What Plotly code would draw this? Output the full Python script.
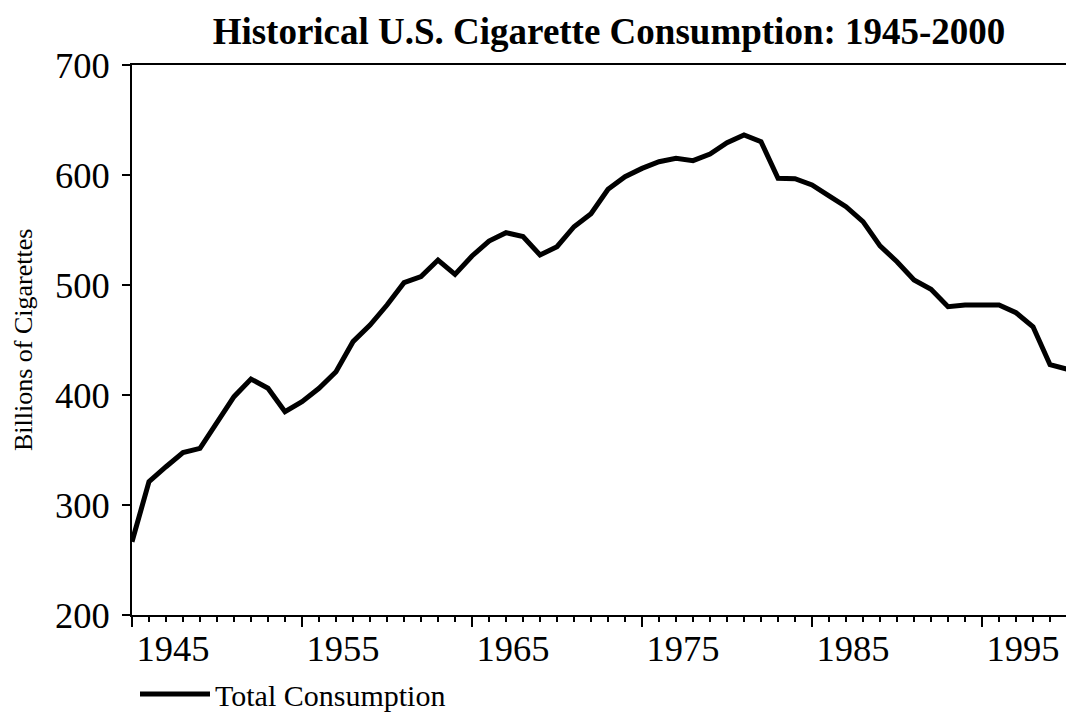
import plotly.graph_objects as go

years = list(range(1945, 2001))
consumption = [
    266.6, 321.2, 334.8, 347.6, 351.5, 374.2, 398.5, 414.5, 406.1, 384.8,
    393.9, 406.1, 421.2, 448.5, 463.6, 481.8, 502.1, 507.6, 522.7, 509.7,
    526.4, 540.0, 547.6, 544.0, 527.3, 534.8, 553.0, 564.8, 587.0, 598.5,
    606.0, 612.1, 615.2, 613.0, 619.1, 629.4, 636.4, 630.3, 597.0, 596.7,
    591.0, 581.0, 571.2, 557.6, 535.5, 521.2, 504.5, 496.1, 480.3, 481.8,
    481.8, 481.8, 474.8, 462.0, 427.5, 423.5,
]
tick_years = [1945, 1955, 1965, 1975, 1985, 1995]
tick_text = [str(y) for y in tick_years]
y_ticks = [200, 300, 400, 500, 600, 700]

serif = "Liberation Serif, Times New Roman, serif"
W, H = 1074, 717
OFF = 8  # page body margin offset

fig = go.Figure()
fig.add_trace(go.Scatter(
    x=years, y=consumption, mode="lines",
    name="Total Consumption",
    line=dict(color="black", width=5),
))

fig.update_layout(
    width=W, height=H,
    paper_bgcolor="white", plot_bgcolor="white",
    margin=dict(l=132 - OFF, r=OFF, t=65 - OFF, b=H - 615 + OFF, autoexpand=False),
    title=dict(
        text="<b>Historical U.S. Cigarette Consumption: 1945-2000</b>",
        font=dict(family=serif, size=37, color="black"),
        xref="container", x=(609 - OFF) / W, xanchor="center",
        yref="container", y=1 - (31 - OFF) / H, yanchor="middle",
    ),
    showlegend=True,
    legend=dict(
        xref="container", yref="container",
        x=(142 - OFF - 7) / W, y=1 - (694 - OFF) / H,
        xanchor="left", yanchor="middle",
        font=dict(family=serif, size=30, color="black"),
        itemwidth=70,
        bgcolor="rgba(0,0,0,0)",
    ),
    font=dict(family=serif, color="black"),
    annotations=[dict(
        text="Billions of Cigarettes", textangle=-90,
        xref="paper", yref="paper",
        x=(23 - 132) / (1074 - 132), y=(615 - 340) / 550,
        xanchor="center", yanchor="middle", showarrow=False,
        font=dict(family=serif, size=26, color="black"),
    )],
)

fig.update_xaxes(
    range=[1945, 2000.41],
    showgrid=False, zeroline=False,
    showline=True, linecolor="black", linewidth=2, mirror=True,
    tickmode="array", tickvals=tick_years, ticktext=tick_text,
    ticks="outside", ticklen=10, tickwidth=1.5, tickcolor="black",
    ticklabelshift=41, ticklabelstandoff=-10,
    tickfont=dict(family=serif, size=36.5, color="black"),
    minor=dict(dtick=1, tick0=1945, ticks="outside", ticklen=5,
               tickwidth=1.5, tickcolor="black", showgrid=False),
)
fig.update_yaxes(
    range=[200, 700],
    showgrid=False, zeroline=False,
    showline=True, linecolor="black", linewidth=2,
    tickmode="array", tickvals=y_ticks,
    ticks="outside", ticklen=8, tickwidth=1.5, tickcolor="black",
    ticklabelstandoff=5,
    tickfont=dict(family=serif, size=36.5, color="black"),
)

fig.write_html("out.html")
